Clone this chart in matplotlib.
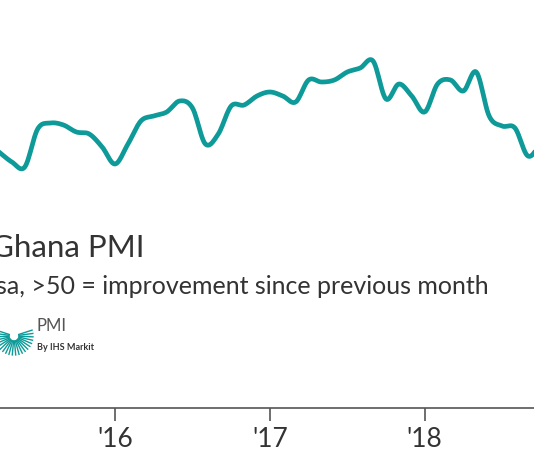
import numpy as np
import matplotlib
matplotlib.use("Agg")
import matplotlib.pyplot as plt

# month index from Jan 2015 (0)
months = list(range(3, 46))
pmi = [49.92, 49.52, 49.32, 50.84, 51.08, 51.0, 50.72, 50.64, 50.12, 49.44,
       50.24, 51.16, 51.36, 51.52, 51.96, 51.68, 50.24, 50.64, 51.76, 51.8,
       52.16, 52.32, 52.16, 51.92, 52.8, 52.72, 52.8, 53.12, 53.28, 53.56,
       52.04, 52.64, 52.16, 51.52, 52.64, 52.8, 52.36, 53.12, 51.36, 50.96,
       50.88, 49.76, 50.24]
tick_pos = [12, 24, 36]
tick_labels = ["'16", "'17", "'18"]
teal = "#0d9a98"

def catmull(x, y, n=12):
    x = np.asarray(x, float); y = np.asarray(y, float)
    px = np.concatenate([[2*x[0]-x[1]], x, [2*x[-1]-x[-2]]])
    py = np.concatenate([[2*y[0]-y[1]], y, [2*y[-1]-y[-2]]])
    xs, ys = [], []
    t = np.linspace(0, 1, n, endpoint=False)
    for i in range(1, len(px)-2):
        for arr, out in ((px, xs), (py, ys)):
            p0, p1, p2, p3 = arr[i-1:i+3]
            out.extend(0.5*((2*p1) + (-p0+p2)*t + (2*p0-5*p1+4*p2-p3)*t**2 + (-p0+3*p1-3*p2+p3)*t**3))
    xs.append(x[-1]); ys.append(y[-1])
    return xs, ys

fig = plt.figure(figsize=(5.34, 4.62), dpi=100)
ax = fig.add_axes([0, 54/462, 1, 408/462])
sx, sy = catmull(months, pmi)
ax.plot(sx, sy, color=teal, lw=3.4, solid_capstyle="round")
ax.set_xlim(3.08, 3.08 + 534/12.9)
ax.set_ylim(39.68, 56)
for s in ["top", "right", "left"]:
    ax.spines[s].set_visible(False)
ax.spines["bottom"].set_color("#555555")
ax.spines["bottom"].set_linewidth(1.2)
ax.set_yticks([])
ax.set_xticks(tick_pos)
ax.set_xticklabels(tick_labels, fontsize=19, color="#333333", family="Lato")
ax.tick_params(axis="x", length=9, width=1.2, color="#555555", pad=5)

fig.text(-0.017, 1 - 248/462, "Ghana PMI", fontsize=22.5, color="#333333", va="center", family="Lato")
fig.text(-0.007, 1 - 287/462, "sa, >50 = improvement since previous month", fontsize=18,
         color="#333333", va="center", family="Lato")
fig.text(37/534, 1 - 326/462, "PMI", fontsize=12, color="#555555", va="center", family="Lato")
fig.text(37/534, 1 - 347/462, "By IHS Markit", fontsize=6.5, color="#333333", va="center",
         family="Lato", fontweight="bold")
# starburst logo
cx, cy = 14, 336
for a in np.linspace(-0.6*np.pi, 0.6*np.pi, 22):
    r0, r1 = 5, 19
    x0, y0 = cx + r0*np.sin(a), cy + r0*np.cos(a)
    x1, y1 = cx + r1*np.sin(a), cy + r1*np.cos(a)
    fig.add_artist(plt.Line2D([x0/534, x1/534], [1-y0/462, 1-y1/462], color=teal, lw=1))
fig.savefig("out.png", dpi=100)
